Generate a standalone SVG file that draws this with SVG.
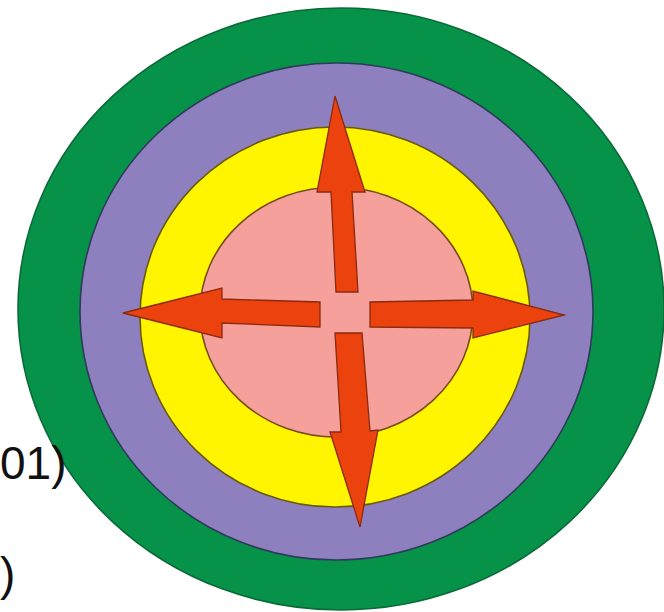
<svg xmlns="http://www.w3.org/2000/svg" width="664" height="612" viewBox="0 0 664 612">
<style>
.ring{stroke-width:1.6}
.arrow{fill:#EC420E;stroke:#8A2A10;stroke-width:1.3;stroke-linejoin:miter}
.lbl{font-family:"Liberation Sans",Arial,sans-serif;font-size:46px;fill:#111}
</style>
<rect width="664" height="612" fill="#ffffff"/>
<g id="ring-green"><ellipse class="ring" cx="341" cy="309" rx="323" ry="301" fill="#07924A" stroke="#0B6A38"/></g>
<g id="ring-purple"><ellipse class="ring" cx="336.5" cy="311.5" rx="256.5" ry="248.5" fill="#8E7FBF" stroke="#2E3A5A"/></g>
<g id="ring-yellow"><ellipse class="ring" cx="335" cy="317" rx="195" ry="190" fill="#FFF500" stroke="#6A5A10"/></g>
<g id="ring-pink"><ellipse class="ring" cx="336.5" cy="312" rx="136.5" ry="125" fill="#F5A09A" stroke="#7A4A20"/></g>
<g id="arrows">
<polygon id="arrow-up" class="arrow" points="335,96 365,192 352,192 358,292 336,292 331,192 317,192"/>
<polygon id="arrow-left" class="arrow" points="123,313 222,288 222,299 320,302 320,327 222,323 222,338"/>
<polygon id="arrow-right" class="arrow" points="564,315 473,338 473,328 370,327 370,302 473,300 473,291"/>
<polygon id="arrow-down" class="arrow" points="360,527 330,432 341,432 335,333 362,333 370,431 378,430"/>
</g>
<text class="lbl" x="0" y="479">01)</text>
<text class="lbl" x="0" y="590">)</text>
</svg>
